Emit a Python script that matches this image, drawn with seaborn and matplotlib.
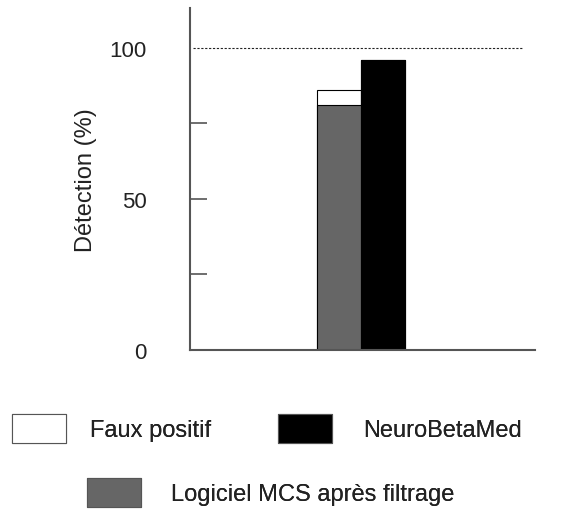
import matplotlib
matplotlib.use("Agg")
import matplotlib.pyplot as plt
import matplotlib.patches as mpatches
import seaborn as sns

# data
methods = ["Logiciel MCS après filtrage", "NeuroBetaMed"]
detection = [81, 96]
faux_positif = [5, 0]
total = [d + f for d, f in zip(detection, faux_positif)]
yticks = [0, 25, 50, 75, 100]
yticklabels = ["0", "", "50", "", "100"]

sns.set_style("ticks")
plt.rcParams["font.family"] = ["Liberation Sans", "DejaVu Sans"]

fig = plt.figure(figsize=(5.87, 5.10), dpi=100)
ax = fig.add_axes([0.3237, 0.3118, 0.5877, 0.6702])

# total (detection + false positives) drawn first, detection on top of it
sns.barplot(x=methods, y=total, hue=methods, palette=["white", "black"],
            width=1, edgecolor="black", linewidth=0.8, legend=False, ax=ax)
sns.barplot(x=methods, y=detection, hue=methods, palette=["#666666", "black"],
            width=1, edgecolor="black", linewidth=0.8, legend=False, ax=ax)

ax.axhline(100, xmin=0.01, xmax=0.962, color="#222222", linestyle=(0, (2, 1.5)), linewidth=0.8)

ax.set_xlim(-3.39, 4.45)
ax.set_ylim(0, 113)
ax.set_yticks(yticks)
ax.set_yticklabels(yticklabels)
ax.set_xticks([])
ax.tick_params(axis="y", direction="in", length=12, width=1.2, color="#555555",
               pad=31, labelsize=16, labelcolor="#222222")
ax.yaxis.get_major_ticks()[-1].tick1line.set_visible(False)
ax.set_ylabel("Détection (%)", fontsize=17, color="#222222", labelpad=9)
sns.despine(ax=ax)
for s in ["left", "bottom"]:
    ax.spines[s].set_color("#555555")
    ax.spines[s].set_linewidth(1.5)

# legend entries placed like the original
entries = [
    ("white", "Faux positif", (12 / 587, 1 - 415 / 510), 1.0),
    ("black", "NeuroBetaMed", (278 / 587, 1 - 415 / 510), 1.3),
    ("#666666", "Logiciel MCS après filtrage", (87 / 587, 1 - 479 / 510), 1.25),
]
for col, lab, anchor, pad in entries:
    h = mpatches.Patch(facecolor=col, edgecolor="#555555", linewidth=0.8, label=lab)
    lg = fig.legend(handles=[h], loc="upper left", bbox_to_anchor=anchor, frameon=False,
                    borderpad=0, borderaxespad=0, fontsize=17, handlelength=2.3,
                    handleheight=1.5, handletextpad=pad, labelcolor="#222222")
    fig.add_artist(lg)

fig.savefig("out.png", dpi=100)
